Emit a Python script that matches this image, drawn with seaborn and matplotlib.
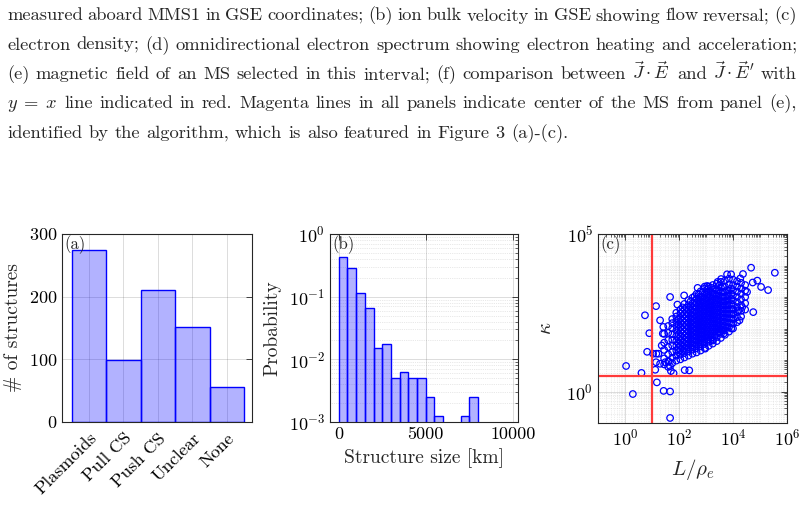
import numpy as np
import matplotlib
matplotlib.use('Agg')
import matplotlib.pyplot as plt
import matplotlib.ticker as mticker
import seaborn as sns

# ---- data ----
# (a) classification of structures
categories = ['Plasmoids', 'Pull CS', 'Push CS', 'Unclear', 'None']
counts = [274, 99, 211, 151, 56]

# (b) structure size histogram (probability per 500 km bin)
size_edges = [0, 500, 1000, 1500, 2000, 2500, 3000, 3500, 4000,
              4500, 5000, 5500, 6000, 6500, 7000, 7500, 8000]
size_prob = [0.435, 0.283, 0.1145, 0.066, 0.015, 0.0173, 0.005, 0.0062,
             0.005, 0.005, 0.00248, 0.00123, 0, 0, 0.00123, 0.00248]

# (c) kappa vs L/rho_e, log10 values
outlier_log_L = [0.04, 0.29, 0.61, 0.74, 0.90, 0.82, 1.15, 1.18, 1.12, 1.43,
                 1.67, 1.67, 1.67, 2.19, 2.21, 2.38, 1.80, 1.04, 1.16, 1.15,
                 1.30, 1.67, 1.70, 1.62, 1.30, 1.42, 1.40, 1.36, 1.24, 1.49,
                 2.69, 2.95, 3.04, 3.43, 3.56, 3.78, 3.93, 4.27, 4.37, 4.67,
                 4.73, 4.90, 5.04, 5.30, 5.55, 4.52, 4.75, 4.34, 4.21, 4.03,
                 4.24, 3.94, 3.66, 3.53, 3.26, 2.97, 1.94, 2.13]
outlier_log_kappa = [0.81, -0.08, 0.59, 2.42, 1.85, 1.26, 2.71, 0.29, 0.69, 0.02,
                     0.00, -0.84, 3.00, 3.05, 0.68, 0.67, 0.58, 1.20, 1.20, 0.93,
                     0.88, 0.80, 0.65, 0.95, 2.26, 2.05, 1.84, 1.46, 1.20, 0.93,
                     3.29, 3.33, 3.35, 3.48, 3.57, 3.72, 3.72, 3.59, 3.73, 3.93,
                     3.46, 3.52, 3.32, 3.22, 3.77, 3.16, 2.52, 2.68, 2.58, 2.47,
                     2.26, 2.00, 1.84, 1.89, 1.62, 1.36, 2.76, 2.67]

core_log_L = [1.45, 1.60, 1.75, 1.90, 2.05, 2.20, 2.35, 2.50, 2.65, 2.80, 2.95,
              3.10, 3.25, 3.40, 3.55, 3.70, 3.85, 4.00, 4.15, 4.30, 4.45,
              1.98, 2.13, 2.28, 2.43, 2.58, 2.73, 2.88, 3.03, 3.18, 3.33,
              3.48, 3.63, 3.78, 3.93]
core_log_kappa = [
    [0.86, 1.05, 1.32, 1.55, 1.83],
    [0.78, 0.95, 1.18, 1.41, 1.63, 1.86, 2.08],
    [0.90, 1.07, 1.25, 1.46, 1.64, 1.82, 2.01, 2.17, 2.30],
    [0.98, 1.14, 1.30, 1.45, 1.60, 1.76, 1.93, 2.08, 2.24, 2.38, 2.50],
    [1.02, 1.17, 1.31, 1.46, 1.60, 1.74, 1.88, 2.03, 2.17, 2.32, 2.47, 2.60],
    [1.08, 1.22, 1.36, 1.50, 1.63, 1.77, 1.90, 2.04, 2.18, 2.32, 2.46, 2.62, 2.78],
    [1.14, 1.27, 1.40, 1.53, 1.66, 1.79, 1.92, 2.05, 2.18, 2.31, 2.45, 2.59, 2.74, 2.90],
    [1.20, 1.33, 1.46, 1.59, 1.72, 1.85, 1.98, 2.11, 2.24, 2.37, 2.50, 2.64, 2.80, 2.98],
    [1.24, 1.37, 1.50, 1.63, 1.76, 1.89, 2.02, 2.15, 2.28, 2.41, 2.54, 2.67, 2.81, 2.95, 3.10],
    [1.30, 1.43, 1.56, 1.69, 1.82, 1.95, 2.08, 2.21, 2.34, 2.47, 2.60, 2.73, 2.87, 3.02, 3.18],
    [1.38, 1.51, 1.64, 1.77, 1.90, 2.03, 2.16, 2.29, 2.42, 2.55, 2.68, 2.81, 2.95, 3.10, 3.27],
    [1.45, 1.58, 1.71, 1.84, 1.97, 2.10, 2.23, 2.36, 2.49, 2.62, 2.75, 2.88, 3.02, 3.17, 3.33],
    [1.52, 1.65, 1.78, 1.91, 2.04, 2.17, 2.30, 2.43, 2.56, 2.69, 2.82, 2.95, 3.09, 3.23, 3.38],
    [1.60, 1.73, 1.86, 1.99, 2.12, 2.25, 2.38, 2.51, 2.64, 2.77, 2.90, 3.04, 3.20, 3.42],
    [1.70, 1.83, 1.96, 2.09, 2.22, 2.35, 2.48, 2.61, 2.74, 2.87, 3.00, 3.14, 3.30, 3.48],
    [1.80, 1.94, 2.08, 2.21, 2.34, 2.47, 2.60, 2.73, 2.86, 3.00, 3.15, 3.33, 3.52],
    [1.90, 2.04, 2.18, 2.32, 2.46, 2.60, 2.74, 2.88, 3.03, 3.20, 3.40, 3.58],
    [2.00, 2.15, 2.30, 2.45, 2.60, 2.75, 2.90, 3.06, 3.22, 3.38, 3.55],
    [2.20, 2.36, 2.52, 2.68, 2.84, 3.00, 3.17, 3.33, 3.50],
    [2.38, 2.56, 2.74, 2.92, 3.10, 3.27, 3.45],
    [2.60, 2.80, 3.00, 3.20, 3.38],
    [1.25, 1.38, 1.52, 1.67, 1.82, 1.99, 2.14, 2.30],
    [1.29, 1.43, 1.56, 1.70, 1.84, 1.97, 2.11, 2.25, 2.39, 2.53],
    [1.33, 1.46, 1.59, 1.72, 1.85, 1.98, 2.11, 2.25, 2.39, 2.52, 2.66],
    [1.39, 1.52, 1.65, 1.78, 1.91, 2.04, 2.17, 2.30, 2.43, 2.57, 2.71, 2.86],
    [1.43, 1.56, 1.69, 1.82, 1.95, 2.08, 2.21, 2.34, 2.47, 2.60, 2.74, 2.88, 3.02],
    [1.49, 1.62, 1.75, 1.88, 2.01, 2.14, 2.27, 2.40, 2.53, 2.66, 2.80, 2.94, 3.09],
    [1.56, 1.69, 1.82, 1.95, 2.08, 2.21, 2.34, 2.47, 2.60, 2.73, 2.87, 3.01, 3.16],
    [1.63, 1.76, 1.89, 2.02, 2.15, 2.28, 2.41, 2.54, 2.67, 2.80, 2.94, 3.08, 3.23],
    [1.70, 1.83, 1.96, 2.09, 2.22, 2.35, 2.48, 2.61, 2.74, 2.87, 3.01, 3.15, 3.30],
    [1.78, 1.91, 2.04, 2.17, 2.30, 2.43, 2.56, 2.69, 2.82, 2.96, 3.10, 3.26],
    [1.87, 2.00, 2.13, 2.26, 2.39, 2.52, 2.65, 2.78, 2.91, 3.05, 3.20, 3.36],
    [1.96, 2.09, 2.22, 2.35, 2.48, 2.61, 2.74, 2.87, 3.01, 3.16, 3.32],
    [2.05, 2.19, 2.33, 2.47, 2.61, 2.75, 2.90, 3.05, 3.22],
    [2.17, 2.32, 2.47, 2.62, 2.78, 2.94, 3.10, 3.27],
]
L_threshold = 10
kappa_threshold = 3

caption_lines = [
    "measured aboard MMS1 in GSE coordinates; (b) ion bulk velocity in GSE showing flow reversal; (c)",
    "electron density; (d) omnidirectional electron spectrum showing electron heating and acceleration;",
    r"(e) magnetic field of an MS selected in this interval; (f) comparison between $\vec{J}\cdot\vec{E}$ and $\vec{J}\cdot\vec{E}'$ with",
    r"$y\;=\;x$ line indicated in red. Magenta lines in all panels indicate center of the MS from panel (e),",
    "identified by the algorithm, which is also featured in Figure 3 (a)-(c).",
]

# ---- style ----
sns.set_style('white')
plt.rcParams['font.family'] = ['cmr10', 'DejaVu Serif']
plt.rcParams['mathtext.fontset'] = 'cm'
plt.rcParams['axes.formatter.use_mathtext'] = True
plt.rcParams['axes.unicode_minus'] = False

W, H = 805, 526
fig = plt.figure(figsize=(W / 100, H / 100), dpi=100)

FACE = (0, 0, 1, 0.3)
EDGE = (0, 0, 1, 1)
FRAME = '#262626'


def px_axes(left, top, right, bottom):
    return fig.add_axes([left / W, 1 - bottom / H, (right - left) / W, (bottom - top) / H])


def matlab_axes(ax):
    for s in ax.spines.values():
        s.set_visible(True)
        s.set_color(FRAME)
        s.set_linewidth(0.8)
    ax.tick_params(which='both', direction='in', top=True, right=True,
                   colors=FRAME, labelcolor='black', labelsize=13)
    ax.tick_params(which='major', length=4, width=0.6)
    ax.tick_params(which='minor', length=2, width=0.5)
    ax.set_axisbelow(True)
    ax.grid(True, which='major', color=FRAME, alpha=0.18, lw=0.6)


# (a)
ax1 = px_axes(62, 234, 252, 422)
sns.barplot(x=categories, y=counts, width=1, ax=ax1)
for p in ax1.patches:
    p.set_facecolor(FACE)
    p.set_edgecolor(EDGE)
    p.set_linewidth(1.0)
matlab_axes(ax1)
ax1.set_xlim(-0.78, 4.73)
ax1.set_ylim(0, 300)
ax1.set_yticks([0, 100, 200, 300])
ax1.tick_params(axis='x', length=0, pad=6)
for lab in ax1.get_xticklabels():
    lab.set_rotation(45)
    lab.set_ha('right')
    lab.set_rotation_mode('anchor')
ax1.set_ylabel('# of structures', fontsize=14, labelpad=5)
ax1.set_xlabel('')
ax1.text(0.01, 0.995, '(a)', transform=ax1.transAxes, ha='left', va='top', fontsize=12)

# (b)
ax2 = px_axes(330, 234, 518, 422)
centers = [(a + b) / 2 for a, b in zip(size_edges[:-1], size_edges[1:])]
sns.histplot(x=centers, weights=size_prob, bins=size_edges, stat='count', ax=ax2)
for p in ax2.patches:
    p.set_facecolor(FACE)
    p.set_edgecolor(EDGE)
    p.set_linewidth(1.0)
ax2.set_yscale('log')
matlab_axes(ax2)
ax2.set_xlim(-500, 10300)
ax2.set_ylim(1e-3, 1)
ax2.set_xticks([0, 5000, 10000])
ax2.xaxis.set_major_formatter(mticker.FuncFormatter(lambda v, p: '%d' % v))
ax2.yaxis.set_major_locator(mticker.LogLocator(base=10, numticks=10))
ax2.yaxis.set_minor_locator(mticker.LogLocator(base=10, subs=np.arange(2, 10), numticks=20))
ax2.grid(True, which='minor', axis='y', color=FRAME, alpha=0.2, lw=0.5, ls=':')
ax2.set_ylabel('Probability', fontsize=14, labelpad=5)
ax2.set_xlabel('Structure size [km]', fontsize=14, labelpad=4)
ax2.text(0.01, 0.995, '(b)', transform=ax2.transAxes, ha='left', va='top', fontsize=12)

# (c)
ax3 = px_axes(598, 234, 787, 423)
log_L = list(outlier_log_L)
log_k = list(outlier_log_kappa)
for x, col in zip(core_log_L, core_log_kappa):
    log_L += [x] * len(col)
    log_k += col
sns.scatterplot(x=10 ** np.array(log_L), y=10 ** np.array(log_k), ax=ax3,
                marker='o', s=22, linewidth=0.9)
for c in ax3.collections:
    c.set_facecolor('none')
    c.set_edgecolor('blue')
ax3.set_xscale('log')
ax3.set_yscale('log')
matlab_axes(ax3)
ax3.set_xlim(10 ** -1, 10 ** 6)
ax3.set_ylim(10 ** -1, 10 ** 5)
ax3.set_xticks([1, 1e2, 1e4, 1e6])
ax3.xaxis.set_minor_locator(mticker.LogLocator(base=10, subs=np.arange(1, 10), numticks=30))
ax3.set_yticks([1, 1e5])
ax3.yaxis.set_minor_locator(mticker.LogLocator(base=10, subs=np.arange(1, 10), numticks=30))
ax3.yaxis.set_minor_formatter(mticker.NullFormatter())
ax3.xaxis.set_minor_formatter(mticker.NullFormatter())
ax3.grid(True, which='minor', color=FRAME, alpha=0.15, lw=0.5, ls=':')
ax3.axvline(L_threshold, color='#ff3b3b', lw=1.6)
ax3.axhline(kappa_threshold, color='#ff3b3b', lw=1.6)
ax3.set_ylabel(r'$\kappa$', fontsize=15, labelpad=8)
ax3.set_xlabel(r'$L/\rho_e$', fontsize=15, labelpad=6)
ax3.text(0.01, 0.995, '(c)', transform=ax3.transAxes, ha='left', va='top', fontsize=12)

# ---- caption text above, justified like the page ----
renderer = fig.canvas.get_renderer()
x0, x1 = 7, 797
base0, step = 20.5, 29.3
fs = 13.3
for i, line in enumerate(caption_lines):
    words = line.split(' ')
    # keep math tokens together
    tokens = []
    buf = None
    for w in words:
        if buf is not None:
            buf += ' ' + w
            if w.count('$') % 2 == 1:
                tokens.append(buf)
                buf = None
        elif w.count('$') % 2 == 1:
            buf = w
        else:
            tokens.append(w)
    y = 1 - (base0 + i * step) / H
    texts = [fig.text(0, y, t, fontsize=fs, va='baseline', ha='left') for t in tokens]
    widths = [t.get_window_extent(renderer).width for t in texts]
    if i < len(caption_lines) - 1:
        gap = (x1 - x0 - sum(widths)) / (len(texts) - 1)
    else:
        gap = 0.333 * fs * 100 / 72
    x = x0
    for t, w in zip(texts, widths):
        t.set_x(x / W)
        x += w + gap

fig.savefig('out.png', dpi=100)
